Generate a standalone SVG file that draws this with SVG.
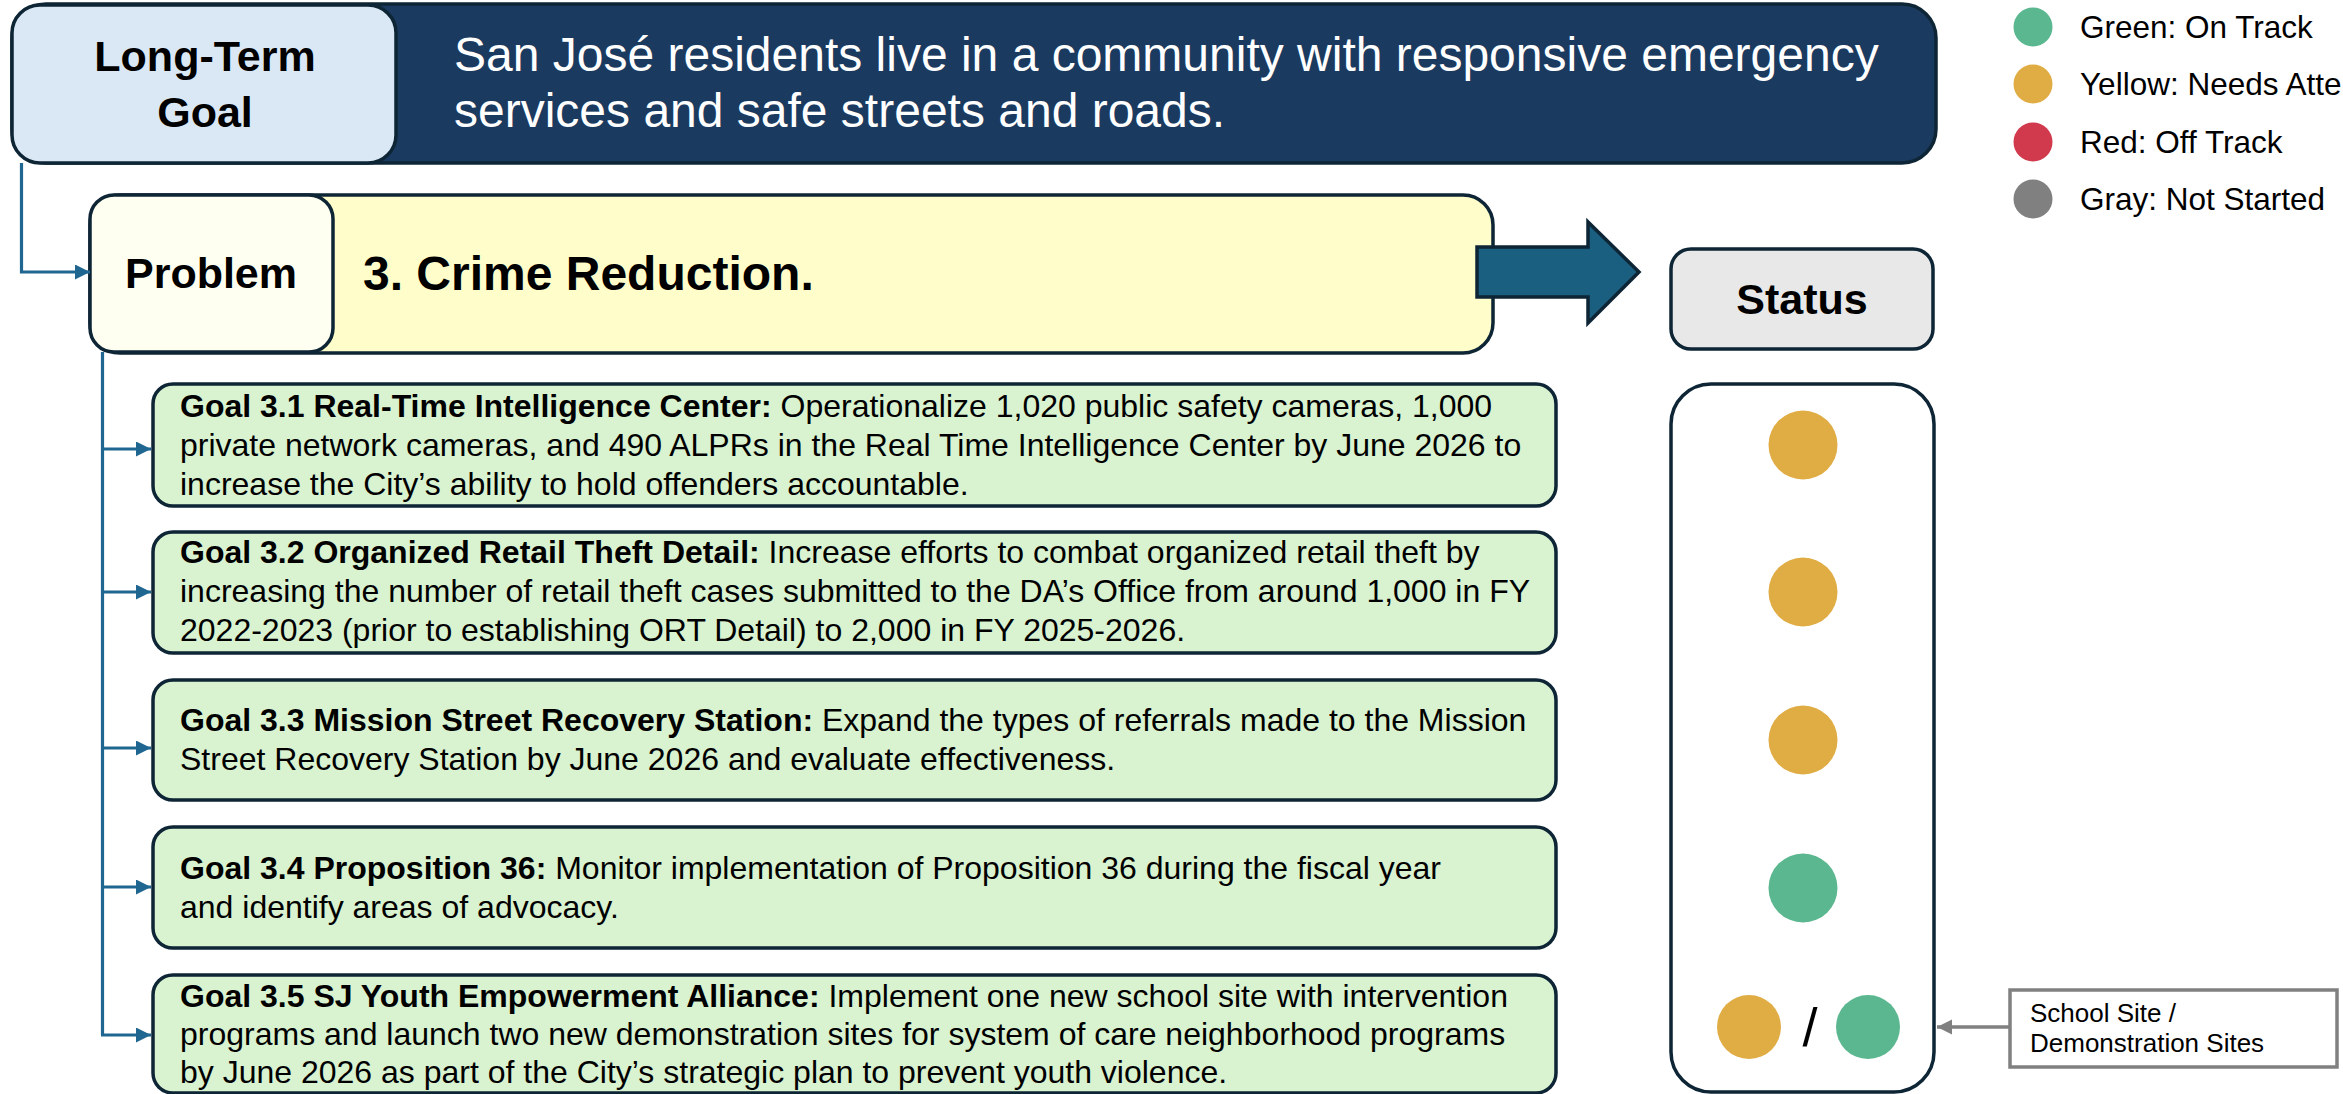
<svg xmlns="http://www.w3.org/2000/svg" width="2343" height="1094" viewBox="0 0 2343 1094">
<style>
  text { font-family: "Liberation Sans", Arial, sans-serif; }
  .box { stroke: #0d2535; stroke-width: 3.5; }
  .goal { fill: #d9f2d0; stroke: #0d2535; stroke-width: 3.5; }
  .gt { font-size: 32px; fill: #000; }
  .b { font-weight: bold; }
  .conn { fill: none; stroke: #1f6690; stroke-width: 3.2; }
  .yel { fill: #e0ac44; }
  .grn { fill: #5bb78f; }
  .red { fill: #d1394d; }
  .gry { fill: #808080; }
  .leg { font-size: 31.5px; fill: #000; }
</style>
<defs>
  <marker id="ah" markerUnits="userSpaceOnUse" markerWidth="16" markerHeight="16" refX="15" refY="7.5" orient="auto">
    <path d="M0,0 L15,7.5 L0,15 Z" fill="#1f6690"/>
  </marker>
  <marker id="ahg" markerUnits="userSpaceOnUse" markerWidth="16" markerHeight="16" refX="15" refY="7.5" orient="auto">
    <path d="M0,0 L15,7.5 L0,15 Z" fill="#808080"/>
  </marker>
</defs>
<rect width="2343" height="1094" fill="#ffffff"/>

<g id="long-term-goal">
  <rect class="box" x="12" y="4" width="1924" height="159" rx="34" fill="#1b3a5f"/>
  <rect class="box" x="12" y="5" width="384" height="158" rx="28" fill="#dae8f5"/>
  <text x="205" y="71" font-size="43" font-weight="bold" text-anchor="middle">Long-Term</text>
  <text x="205" y="127" font-size="43" font-weight="bold" text-anchor="middle">Goal</text>
  <text x="454" y="71" font-size="48" fill="#ffffff">San José residents live in a community with responsive emergency</text>
  <text x="454" y="127" font-size="48" fill="#ffffff">services and safe streets and roads.</text>
</g>

<g id="problem">
  <rect class="box" x="90" y="195" width="1403" height="158" rx="30" fill="#fffdca"/>
  <rect class="box" x="90" y="195" width="243" height="157" rx="24" fill="#fefff0"/>
  <text x="211" y="288" font-size="43" font-weight="bold" text-anchor="middle">Problem</text>
  <text x="363" y="290" font-size="48" font-weight="bold">3. Crime Reduction.</text>
</g>

<g id="status-header">
  <rect class="box" x="1671" y="249" width="262" height="100" rx="20" fill="#e8e8e8"/>
  <text x="1802" y="314" font-size="43" font-weight="bold" text-anchor="middle">Status</text>
</g>

<g id="goal-3-1">
  <rect class="goal" x="153" y="384" width="1403" height="122" rx="20"/>
  <text class="gt" x="180" y="417"><tspan class="b">Goal 3.1 Real-Time Intelligence Center:</tspan> Operationalize 1,020 public safety cameras, 1,000</text>
  <text class="gt" x="180" y="456">private network cameras, and 490 ALPRs in the Real Time Intelligence Center by June 2026 to</text>
  <text class="gt" x="180" y="495">increase the City’s ability to hold offenders accountable.</text>
</g>

<g id="goal-3-2">
  <rect class="goal" x="153" y="532" width="1403" height="121" rx="20"/>
  <text class="gt" x="180" y="563"><tspan class="b">Goal 3.2 Organized Retail Theft Detail:</tspan> Increase efforts to combat organized retail theft by</text>
  <text class="gt" x="180" y="602">increasing the number of retail theft cases submitted to the DA’s Office from around 1,000 in FY</text>
  <text class="gt" x="180" y="641">2022-2023 (prior to establishing ORT Detail) to 2,000 in FY 2025-2026.</text>
</g>

<g id="goal-3-3">
  <rect class="goal" x="153" y="680" width="1403" height="120" rx="20"/>
  <text class="gt" x="180" y="731"><tspan class="b">Goal 3.3 Mission Street Recovery Station:</tspan> Expand the types of referrals made to the Mission</text>
  <text class="gt" x="180" y="770">Street Recovery Station by June 2026 and evaluate effectiveness.</text>
</g>

<g id="goal-3-4">
  <rect class="goal" x="153" y="827" width="1403" height="121" rx="20"/>
  <text class="gt" x="180" y="879"><tspan class="b">Goal 3.4 Proposition 36:</tspan> Monitor implementation of Proposition 36 during the fiscal year</text>
  <text class="gt" x="180" y="918">and identify areas of advocacy.</text>
</g>

<g id="goal-3-5">
  <rect class="goal" x="153" y="975" width="1403" height="118" rx="20"/>
  <text class="gt" x="180" y="1007"><tspan class="b">Goal 3.5 SJ Youth Empowerment Alliance:</tspan> Implement one new school site with intervention</text>
  <text class="gt" x="180" y="1045">programs and launch two new demonstration sites for system of care neighborhood programs</text>
  <text class="gt" x="180" y="1083">by June 2026 as part of the City’s strategic plan to prevent youth violence.</text>
</g>

<g id="status-panel">
  <rect class="box" x="1671" y="384" width="263" height="708" rx="40" fill="#ffffff"/>
  <circle class="yel" cx="1803" cy="445" r="34.5"/>
  <circle class="yel" cx="1803" cy="592" r="34.5"/>
  <circle class="yel" cx="1803" cy="740" r="34.5"/>
  <circle class="grn" cx="1803" cy="888" r="34.5"/>
  <circle class="yel" cx="1749" cy="1027" r="32"/>
  <text x="1810" y="1046" font-size="54" text-anchor="middle">/</text>
  <circle class="grn" cx="1868" cy="1027" r="32"/>
</g>

<g id="callout">
  <rect x="2010" y="990" width="327" height="77" fill="#ffffff" stroke="#808080" stroke-width="3.5"/>
  <text x="2030" y="1022" font-size="26">School Site /</text>
  <text x="2030" y="1052" font-size="26">Demonstration Sites</text>
</g>

<g id="legend">
  <circle class="grn" cx="2033" cy="27" r="19.5"/>
  <text class="leg" x="2080" y="38">Green: On Track</text>
  <circle class="yel" cx="2033" cy="84" r="19.5"/>
  <text class="leg" x="2080" y="95">Yellow: Needs Attention</text>
  <circle class="red" cx="2033" cy="142" r="19.5"/>
  <text class="leg" x="2080" y="153">Red: Off Track</text>
  <circle class="gry" cx="2033" cy="199" r="19.5"/>
  <text class="leg" x="2080" y="210">Gray: Not Started</text>
</g>

<g id="connectors">
  <path class="conn" d="M21.5,163 V272 H90" marker-end="url(#ah)"/>
  <path class="conn" d="M102.5,352 V1035"/>
  <path class="conn" d="M102.5,449 H151" marker-end="url(#ah)"/>
  <path class="conn" d="M102.5,592 H151" marker-end="url(#ah)"/>
  <path class="conn" d="M102.5,748 H151" marker-end="url(#ah)"/>
  <path class="conn" d="M102.5,887 H151" marker-end="url(#ah)"/>
  <path class="conn" d="M101,1035 H151" marker-end="url(#ah)"/>
  <polygon points="1477,247 1588,247 1588,222 1639,272 1588,323 1588,297 1477,297" fill="#1a5e80" stroke="#0d2535" stroke-width="3.5" stroke-linejoin="miter"/>
  <path d="M2010,1027 H1937" fill="none" stroke="#808080" stroke-width="3.5" marker-end="url(#ahg)"/>
</g>
</svg>
